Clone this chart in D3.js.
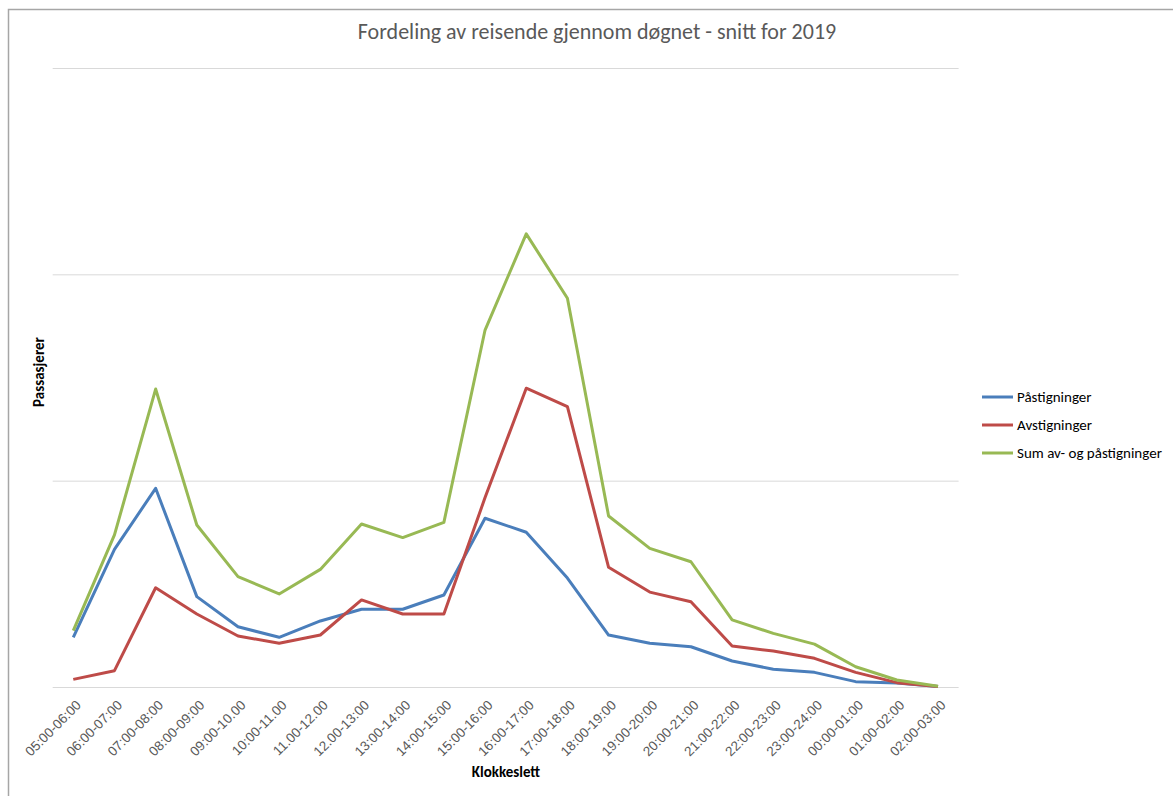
<!DOCTYPE html>
<html>
<head>
<meta charset="utf-8">
<script src="https://cdn.jsdelivr.net/npm/d3@7/dist/d3.min.js"></script>
<style>
  body { margin: 0; background: #fff; }
  svg { display: block; font-family: Carlito, Lato, "Liberation Sans", sans-serif; }
</style>
</head>
<body>
<div id="chart"></div>
<script>
// timer på døgnet
const hours = ["05:00-06:00", "06:00-07:00", "07:00-08:00", "08:00-09:00", "09:00-10.00",
  "10:00-11.00", "11.00-12.00", "12.00-13:00", "13:00-14:00", "14:00-15:00", "15:00-16:00",
  "16:00-17:00", "17:00-18:00", "18:00-19:00", "19:00-20:00", "20:00-21:00", "21:00-22:00",
  "22:00-23:00", "23:00-24:00", "00:00-01:00", "01:00-02:00", "02:00-03:00"];

// (ingen akseverdier i originalen)
const paastigninger = [241, 667, 963, 438, 292, 241, 320, 377, 377, 446, 818, 750, 528, 252, 212, 195, 126, 86, 71, 26, 19, 2];
const avstigninger = [37, 79, 481, 354, 247, 212, 252, 422, 354, 354, 918, 1448, 1359, 580, 460, 413, 199, 174, 139, 71, 21, 2];
const sumAvPaa = [273, 737, 1444, 785, 535, 451, 570, 790, 724, 798, 1730, 2196, 1884, 829, 672, 607, 325, 260, 208, 98, 34, 4];

const gridValues = [0, 1000, 2000, 3000];

const seriesNames = ["Påstigninger", "Avstigninger", "Sum av- og påstigninger"];
const seriesColors = ["#4a7ebb", "#be4b48", "#98b954"];

const W = 1173, H = 796;
const svg = d3.select("#chart").append("svg")
  .attr("width", W)
  .attr("height", H);

// ramme
svg.append("path")
  .attr("d", `M8.5,${H} L8.5,9.5 L${W},9.5`)
  .attr("fill", "none")
  .attr("stroke", "#a6a6a6")
  .attr("stroke-width", 1.5);

const x = d3.scalePoint()
  .domain(hours)
  .range([52.7, 958.6])
  .padding(0.5);

const y = d3.scaleLinear()
  .domain([0, 3000])
  .range([687, 68]);

// rutenett
svg.append("g")
  .attr("transform", "translate(52.7,0)")
  .call(d3.axisLeft(y).tickValues(gridValues).tickSize(-(958.6 - 52.7)).tickFormat(""))
  .call(g => g.select(".domain").remove())
  .call(g => g.selectAll(".tick line").attr("stroke", "#d9d9d9").attr("stroke-width", 1));

// x-akse
const xAxis = svg.append("g")
  .attr("transform", "translate(0,687)")
  .call(d3.axisBottom(x).tickSize(0))
  .call(g => g.select(".domain").remove());

xAxis.selectAll(".tick text")
  .attr("fill", "#595959")
  .attr("font-size", "13.5px")
  .attr("text-anchor", "end")
  .attr("x", 0)
  .attr("y", 0)
  .attr("dy", 0)
  .attr("transform", "translate(8,19) rotate(-45)");

const lineGen = d3.line()
  .x((d, i) => x(hours[i]))
  .y(d => y(d));

const allSeries = [paastigninger, avstigninger, sumAvPaa];

allSeries.forEach((s, k) => {
  svg.append("path")
    .datum(s)
    .attr("fill", "none")
    .attr("stroke", seriesColors[k])
    .attr("stroke-width", 3)
    .attr("stroke-linejoin", "round")
    .attr("d", lineGen);
});

// tittel
svg.append("text")
  .attr("x", 597)
  .attr("y", 39)
  .attr("text-anchor", "middle")
  .attr("fill", "#595959")
  .attr("font-size", "22px")
  .text("Fordeling av reisende gjennom døgnet - snitt for 2019");

// aksetitler
svg.append("text")
  .attr("transform", "translate(44,372) rotate(-90)")
  .attr("text-anchor", "middle")
  .attr("font-weight", "bold")
  .attr("font-size", "15px")
  .text("Passasjerer");

svg.append("text")
  .attr("x", 506)
  .attr("y", 777)
  .attr("text-anchor", "middle")
  .attr("font-weight", "bold")
  .attr("font-size", "15px")
  .text("Klokkeslett");

// tegnforklaring
const legend = svg.append("g").attr("transform", "translate(982,397)");
seriesNames.forEach((name, k) => {
  const row = legend.append("g").attr("transform", `translate(0,${k * 28})`);
  row.append("line")
    .attr("x1", 0).attr("x2", 31)
    .attr("stroke", seriesColors[k])
    .attr("stroke-width", 3);
  row.append("text")
    .attr("x", 35)
    .attr("dy", "0.35em")
    .attr("font-size", "15px")
    .attr("fill", "#000")
    .text(name);
});
</script>
</body>
</html>
